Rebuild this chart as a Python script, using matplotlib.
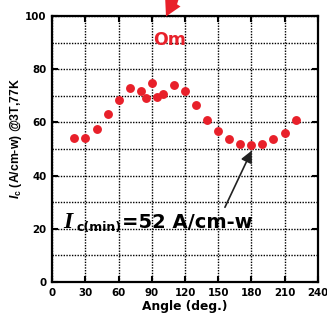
import matplotlib
matplotlib.use("Agg")
import matplotlib.pyplot as plt
from matplotlib.patches import Polygon

# Data
angles = [20, 30, 40, 50, 60, 70, 80, 85, 90, 95, 100, 110, 120, 130, 140, 150,
          160, 170, 180, 190, 200, 210, 220]
ic_values = [54, 54, 57.5, 63.2, 68.3, 73, 71.8, 69, 75, 69.4, 70.8, 74, 72, 66.4,
             61, 56.9, 53.8, 52, 51.4, 52, 53.8, 56, 61]
x_ticks = [0, 30, 60, 90, 120, 150, 180, 210, 240]
y_ticks = [0, 20, 40, 60, 80, 100]

plt.rcParams['mathtext.fontset'] = 'custom'
plt.rcParams['mathtext.it'] = 'Liberation Sans:italic:bold'
plt.rcParams['mathtext.rm'] = 'Liberation Sans:bold'

W, H = 327, 321
fig = plt.figure(figsize=(W / 100, H / 100), dpi=100)
ax = fig.add_axes([0.160, 0.1215, 0.8116, 0.8285])

red = '#e8202a'
ax.plot(angles, ic_values, 'o', color=red, markersize=6.4, markeredgewidth=0, zorder=5, clip_on=False)

ax.set_xlim(0, 240)
ax.set_ylim(0, 100)
ax.set_xticks(x_ticks)
ax.set_yticks(y_ticks)
ax.set_yticks([10, 30, 50, 70, 90], minor=True)
ax.grid(True, which='both', linestyle=(0, (1, 1)), color='black', linewidth=1.0)
ax.tick_params(which='major', direction='in', length=4, width=1.5, top=True, right=True, pad=4)
ax.tick_params(which='minor', length=0)
for lab in ax.get_xticklabels() + ax.get_yticklabels():
    lab.set_fontfamily('DejaVu Sans')
    lab.set_fontweight('bold')
    lab.set_fontsize(7.4)
for sp in ax.spines.values():
    sp.set_linewidth(1.6)

ax.set_xlabel('Angle (deg.)', fontfamily='DejaVu Sans', fontweight='bold', fontsize=8.8, labelpad=2)
ax.set_ylabel(r'$\mathit{I}_{\mathrm{c}}$ (A/cm-w) @3T,77K', fontfamily='Liberation Sans',
              fontweight='bold', fontsize=8.8, labelpad=4)
ax.yaxis.set_label_coords(-0.106, 0.54)

# "Om" label
ax.text(90.9, 89.1, 'Om', color=red, fontfamily='DejaVu Sans', fontweight='bold',
        fontsize=12.5, ha='left', va='baseline')

# red arrow head at top (partly out of figure), in figure pixel coords
def fp(x, y):
    return (x / W, 1 - y / H)

arrow_px = [(166, 16.5), (180.5, 6.5), (177, 4.3), (180, -5), (165, -5)]
fig.patches.append(Polygon([fp(x, y) for x, y in arrow_px], closed=True, transform=fig.transFigure,
                           facecolor=red, edgecolor='none', figure=fig))

# annotation text
ax.text(9.5, 20.3, 'I', fontfamily='Liberation Serif', style='italic', fontweight='bold',
        fontsize=17, ha='left', va='baseline')
ax.text(22.0, 19.2, 'c(min)', fontfamily='DejaVu Sans', fontweight='bold',
        fontsize=9, ha='left', va='baseline')
ax.text(63, 20.3, '=52 A/cm-w', fontfamily='DejaVu Sans', fontweight='bold',
        fontsize=14, ha='left', va='baseline')

ax.annotate('', xy=(180.3, 49.4), xytext=(156.1, 28.1),
            arrowprops=dict(arrowstyle='-|>,head_length=0.5,head_width=0.25', color='#222222',
                            lw=1.2, mutation_scale=14, shrinkA=0, shrinkB=0))

fig.savefig('out.png', dpi=100)
